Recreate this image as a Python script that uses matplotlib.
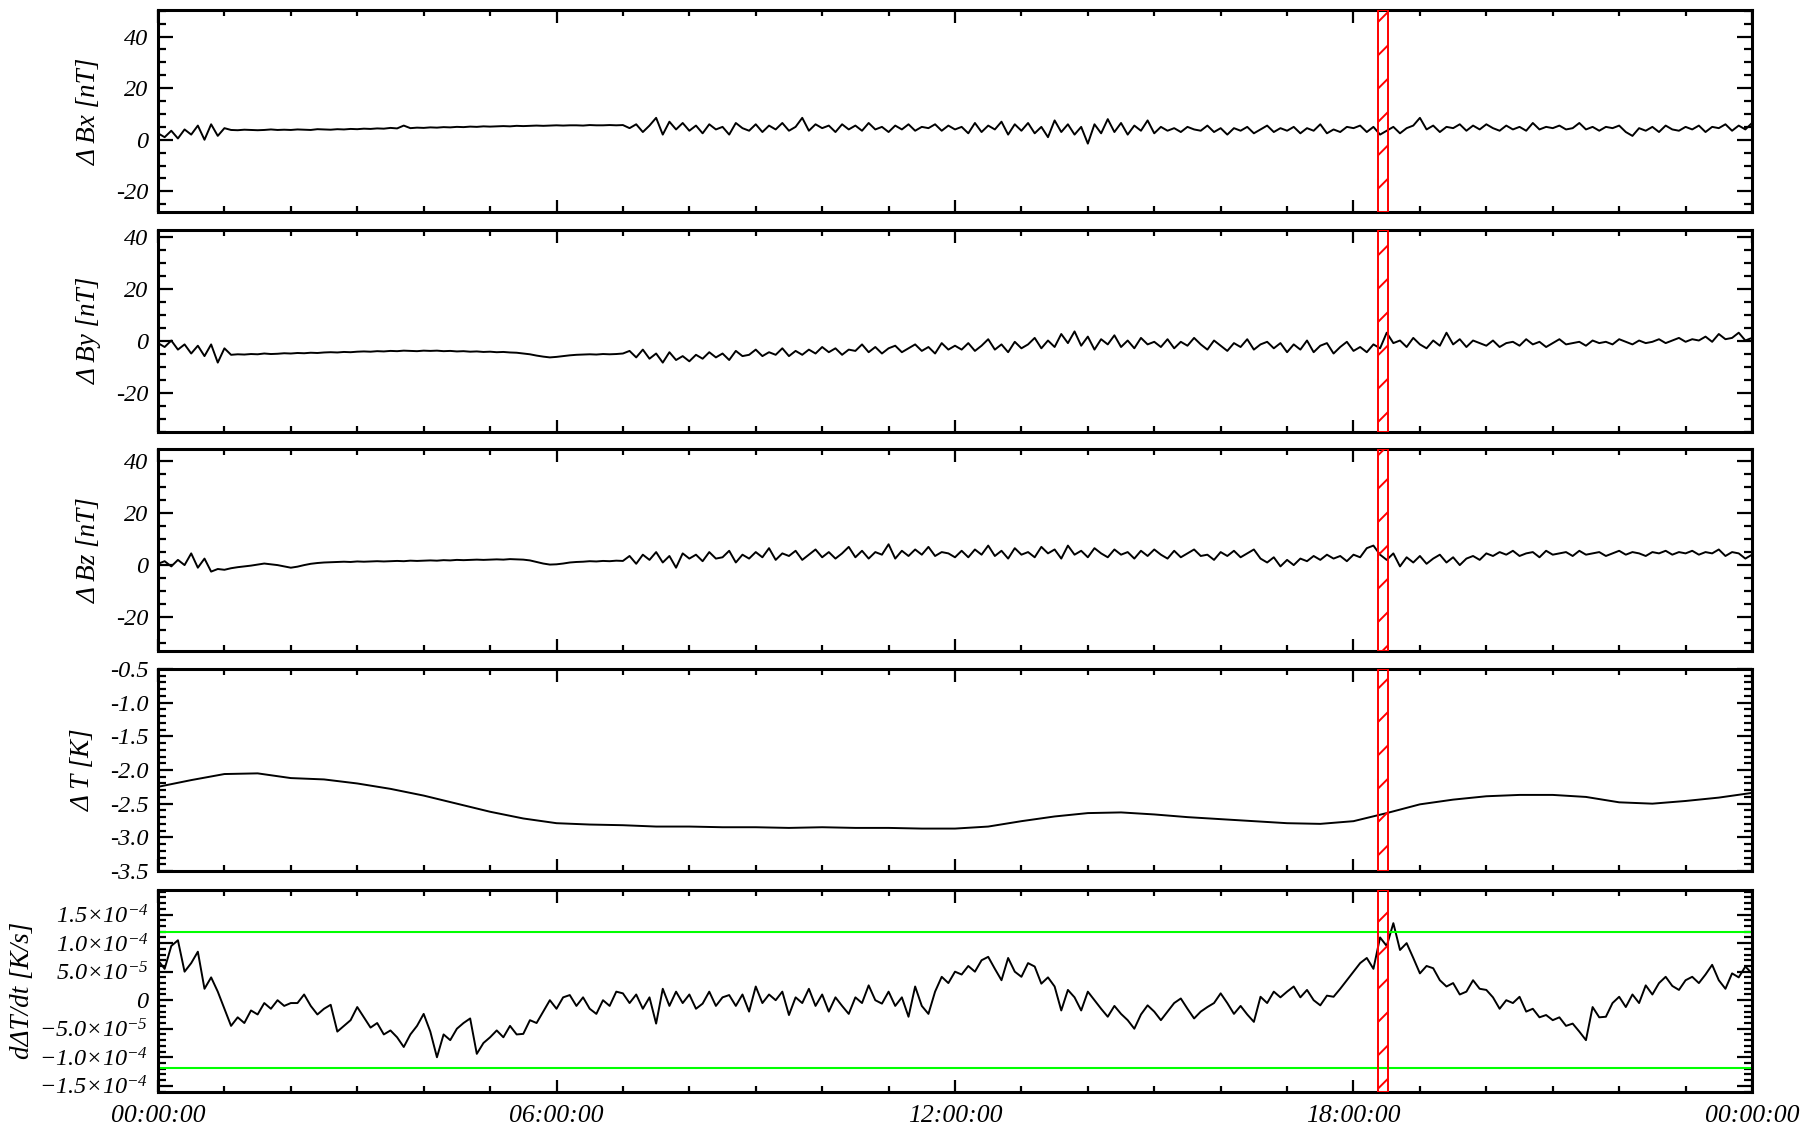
import matplotlib
matplotlib.use('Agg')
import matplotlib.pyplot as plt
from matplotlib.ticker import MultipleLocator, FixedLocator, FuncFormatter
import numpy as np

plt.rcParams['font.family'] = ['Liberation Serif', 'DejaVu Serif']
plt.rcParams['font.style'] = 'italic'
plt.rcParams['mathtext.fontset'] = 'custom'
plt.rcParams['mathtext.rm'] = 'Liberation Serif:italic'
plt.rcParams['mathtext.it'] = 'Liberation Serif:italic'
plt.rcParams['axes.unicode_minus'] = False
plt.rcParams['hatch.linewidth'] = 1.4

# ---- data (time in hours, 0.1 h step) ----
bx = [2.5, 1.0, 3.5, 0.5, 4.0, 2.0, 5.5, 0.0, 6.0, 1.5, 4.5,
      3.8, 3.7, 3.9, 3.8, 3.7, 3.8, 4.0, 3.8, 3.9, 3.8, 4.0, 3.9, 3.8, 4.1, 4.0, 3.9, 4.1, 4.0, 4.2, 4.1,
      4.3, 4.2, 4.4, 4.3, 4.6, 4.4, 5.5, 4.5, 4.7, 4.6, 4.8, 4.7, 4.9, 4.8, 5.0, 4.9, 5.1, 5.0, 5.2, 5.1,
      5.2, 5.3, 5.2, 5.4, 5.3, 5.4, 5.5, 5.4, 5.5, 5.6, 5.5, 5.6, 5.6, 5.5, 5.7, 5.6, 5.6, 5.7, 5.6, 5.7,
      4.5, 6.0, 3.0, 5.5, 8.5, 2.0, 7.0, 4.0, 6.5, 3.5,
      5.5, 2.5, 6.0, 4.0, 5.0, 2.0, 6.5, 4.5, 3.5, 6.0,
      3.0, 5.5, 4.0, 6.5, 3.5, 5.0, 8.5, 3.5, 6.0, 4.5,
      5.5, 3.0, 6.0, 4.0, 5.5, 3.5, 6.5, 4.0, 5.0, 3.0,
      5.5, 4.0, 6.0, 3.5, 5.0, 4.5, 6.0, 3.5, 5.5, 4.0,
      5.0, 2.5, 6.5, 3.0, 5.5, 4.0, 7.0, 2.0, 6.0, 3.5,
      6.5, 2.5, 5.0, 1.0, 7.5, 3.0, 6.0, 2.0, 5.0, -1.5,
      6.0, 2.5, 8.0, 3.0, 6.5, 2.0, 5.5, 3.5, 7.5, 2.5,
      5.0, 3.5, 4.5, 3.0, 5.0, 4.0, 3.5, 5.5, 3.0, 4.5,
      2.0, 4.5, 3.5, 5.0, 2.5, 4.0, 5.5, 3.0, 4.5, 3.5,
      5.0, 2.5, 4.5, 3.5, 6.0, 2.5, 4.0, 3.0, 5.0, 4.5,
      5.5, 3.0, 5.0, 2.0, 3.5, 5.0, 2.5, 4.5, 5.5, 8.5,
      4.0, 5.5, 3.0, 5.0, 4.5, 6.0, 3.5, 5.5, 4.0, 6.0,
      4.5, 3.5, 5.5, 4.0, 5.0, 3.5, 6.5, 4.0, 5.0, 4.5,
      5.5, 4.0, 4.5, 6.5, 4.0, 5.0, 3.5, 5.0, 4.5, 5.5,
      3.0, 1.5, 4.5, 3.5, 5.0, 3.0, 5.5, 4.0, 3.5, 5.0,
      4.0, 5.5, 3.0, 5.0, 4.5, 6.0, 3.5, 5.5, 4.0, 6.5]

by = [-1.0, -2.5, 0.0, -3.5, -1.5, -5.0, -2.0, -6.0, -1.5, -8.5, -3.0,
      -5.5, -5.3, -5.4, -5.2, -5.3, -5.0, -5.2, -5.1, -4.9, -5.0, -4.8, -4.9, -4.7, -4.8, -4.6, -4.5, -4.6, -4.4, -4.5, -4.3,
      -4.2, -4.3, -4.1, -4.2, -4.0, -4.1, -3.9, -4.0, -4.1, -3.9, -4.0, -3.9, -4.1, -4.0, -4.2, -4.1, -4.3, -4.2, -4.4, -4.3,
      -4.5, -4.4, -4.6, -4.7, -5.0, -5.3, -5.8, -6.2, -6.5, -6.3, -6.0, -5.7, -5.5, -5.4, -5.3, -5.4, -5.2, -5.3, -5.2, -5.0,
      -4.0, -6.5, -3.5, -7.0, -5.0, -8.5, -4.5, -7.5, -6.0, -8.0,
      -5.5, -7.0, -4.5, -6.5, -5.0, -7.5, -4.0, -6.0, -5.5, -3.5,
      -6.0, -4.5, -5.5, -3.0, -6.0, -4.0, -5.5, -3.5, -5.0, -2.5,
      -4.5, -3.0, -5.5, -3.5, -4.0, -1.5, -4.5, -2.5, -5.0, -3.0,
      -2.0, -4.5, -3.0, -1.5, -4.0, -2.5, -5.0, -1.0, -3.5, -2.0,
      -3.5, -1.0, -4.0, -2.0, 0.5, -3.5, -1.5, -4.5, -0.5, -3.0,
      -1.5, 1.0, -3.0, 0.0, -2.5, 2.5, -1.0, 3.5, -2.0, 1.5,
      -3.5, 0.5, -1.5, 2.0, -2.5, 0.0, -3.0, 1.0, -1.5, -0.5,
      -2.5, 0.5, -3.0, -0.5, -2.0, 1.0, -1.5, -3.5, 0.0, -2.0,
      -4.0, -1.0, -2.5, 0.5, -3.5, -1.5, -0.5, -3.0, -1.0, -4.5,
      -1.5, -3.5, 0.0, -4.5, -2.0, -1.0, -5.0, -2.5, -0.5, -4.0,
      -2.5, -4.5, -1.5, -3.0, 3.0, -1.0, 0.0, -2.5, 1.0, -1.5,
      -3.0, 0.0, -2.0, 3.0, -1.5, 0.5, -2.5, 0.0, -1.0, -2.0,
      0.0, -2.5, -1.0, -0.5, -2.0, 0.5, -1.5, -0.5, -2.5, -1.0,
      0.5, -1.5, -1.0, -0.5, -2.0, 0.0, -1.0, -0.5, -1.5, 0.5,
      -0.5, -1.5, 0.0, -1.0, -0.5, 0.5, -1.0, 0.0, 1.0, -0.5,
      0.5, 0.0, 1.5, -0.5, 2.5, 0.5, 1.0, 3.0, 0.0, 1.0]

bz = [0.5, 1.5, -0.5, 2.0, 0.0, 4.5, -1.0, 2.5, -2.5, -1.5, -1.8,
      -1.2, -0.8, -0.5, -0.2, 0.2, 0.6, 0.3, 0.0, -0.5, -1.0, -0.6, 0.0, 0.5, 0.8, 1.0, 1.1, 1.2, 1.3, 1.2, 1.4,
      1.3, 1.4, 1.5, 1.4, 1.5, 1.6, 1.5, 1.7, 1.6, 1.7, 1.8, 1.7, 1.9, 1.8, 2.0, 1.9, 2.0, 2.1, 2.0, 2.1,
      2.2, 2.1, 2.3, 2.2, 2.1, 1.8, 1.2, 0.6, 0.2, 0.3, 0.6, 1.0, 1.2, 1.3, 1.5, 1.4, 1.6, 1.5, 1.7, 1.6,
      3.5, 0.5, 4.0, 2.0, 5.0, 1.0, 3.5, -1.0, 4.5, 2.5,
      4.0, 1.5, 5.0, 2.5, 3.0, 5.5, 1.0, 4.0, 2.5, 5.0,
      3.0, 6.5, 2.0, 4.5, 3.5, 5.5, 2.0, 4.0, 6.0, 3.0,
      5.0, 2.5, 4.5, 7.0, 3.0, 5.5, 2.5, 5.0, 4.0, 8.0,
      2.5, 5.5, 3.5, 6.0, 4.0, 7.0, 3.5, 5.0, 4.5, 3.0,
      5.5, 3.0, 6.0, 4.0, 7.5, 3.5, 5.5, 2.5, 6.5, 4.0,
      5.0, 3.0, 7.0, 4.5, 6.0, 2.5, 7.5, 4.0, 5.5, 3.0,
      6.5, 4.5, 3.0, 6.0, 4.0, 5.0, 2.5, 5.5, 3.5, 6.0,
      4.0, 2.5, 5.5, 3.0, 4.5, 6.0, 3.5, 4.0, 2.0, 5.0,
      3.5, 5.5, 3.0, 4.5, 6.0, 2.5, 1.0, 3.0, -0.5, 2.0,
      0.0, 2.5, 1.5, 3.5, 2.0, 4.0, 2.5, 3.5, 1.5, 4.0,
      3.0, 6.5, 7.5, 4.0, 2.0, 4.5, -0.5, 3.0, 1.0, 3.5,
      0.5, 2.5, 4.0, 1.0, 3.0, 0.0, 2.5, 3.5, 2.0, 4.5,
      3.5, 5.0, 4.0, 5.5, 3.5, 4.5, 5.0, 3.0, 5.5, 4.0,
      4.5, 5.0, 3.5, 5.5, 4.0, 4.5, 5.0, 3.5, 4.5, 5.5,
      4.0, 5.0, 4.5, 3.5, 5.0, 4.5, 5.5, 4.0, 5.0, 4.5,
      5.5, 4.0, 5.0, 4.5, 6.0, 3.5, 5.0, 4.5, 2.5, 4.0]

# delta T, 0.5 h step
dtemp = [-2.25, -2.15, -2.06, -2.05, -2.12, -2.14, -2.20, -2.28, -2.38, -2.50,
         -2.62, -2.72, -2.79, -2.81, -2.82, -2.84, -2.84, -2.85, -2.85, -2.86,
         -2.85, -2.86, -2.86, -2.87, -2.87, -2.84, -2.76, -2.69, -2.64, -2.63,
         -2.66, -2.70, -2.73, -2.76, -2.79, -2.80, -2.76, -2.64, -2.51, -2.44,
         -2.39, -2.37, -2.37, -2.40, -2.48, -2.50, -2.46, -2.41, -2.34]

# d(delta T)/dt in units of 1e-5 K/s, 0.1 h step
dtdt = [7.0, 5.5, 9.5, 10.5, 5.0, 6.5, 8.5, 2.0, 4.0, 1.5, -1.5,
        -4.5, -3.0, -4.0, -1.8, -2.5, -0.5, -1.5, 0.0, -1.0, -0.5,
        -0.5, 1.0, -1.0, -2.5, -1.5, -0.8, -5.5, -4.5, -3.5, -1.2,
        -3.0, -4.8, -4.0, -6.0, -5.3, -6.5, -8.2, -6.0, -4.5, -2.4,
        -5.5, -10.0, -6.0, -7.0, -5.0, -4.0, -3.2, -9.4, -7.5, -6.5,
        -5.3, -6.5, -4.5, -6.0, -5.9, -3.5, -4.0, -2.0, 0.0, -1.5,
        0.5, 0.9, -1.0, 0.5, -1.5, -2.4, 0.0, -1.0, 1.5, 1.2,
        -0.5, 1.0, -1.5, 0.5, -4.1, 2.0, -1.0, 1.5, -0.5, 1.0,
        -1.5, -0.6, 1.5, -1.0, 0.5, 0.9, -1.0, 1.0, -2.0, 2.4,
        -0.5, 1.0, 0.0, 1.5, -2.6, 0.5, -0.5, 2.0, -1.0, 1.0,
        -2.0, 0.5, -1.0, -2.4, 0.5, -0.5, 2.6, 0.0, -0.6, 1.5,
        -1.0, 0.5, -2.9, 2.4, -1.0, -2.4, 1.5, 4.1, 3.0, 5.0,
        4.5, 6.0, 5.0, 7.0, 7.6, 5.5, 3.5, 7.4, 5.0, 4.1,
        6.5, 5.9, 2.9, 4.0, 2.4, -1.8, 1.8, 0.5, -1.8, 1.5,
        0.0, -1.5, -2.9, -1.0, -2.4, -3.5, -5.0, -2.5, -0.9, -2.0,
        -3.5, -2.0, -0.5, 0.3, -1.5, -3.2, -2.0, -1.2, -0.5, 1.2,
        -0.5, -2.4, -1.0, -2.5, -3.8, 0.6, -0.5, 1.5, 0.5, 1.5,
        2.4, 0.5, 1.8, 0.0, -0.9, 0.8, 0.6, 2.0, 3.5, 5.0,
        6.5, 7.4, 5.5, 11.0, 9.5, 13.5, 8.8, 10.0, 7.4, 4.7,
        6.0, 5.6, 3.5, 2.4, 3.0, 1.0, 1.5, 3.5, 2.0, 1.8,
        0.5, -1.5, 0.0, -0.5, 0.6, -2.0, -1.5, -3.0, -2.6, -3.5,
        -3.0, -4.5, -4.1, -5.5, -7.0, -1.2, -3.0, -2.9, -0.5, 0.6,
        -1.2, 1.0, -0.5, 2.6, 1.0, 3.0, 4.1, 2.5, 1.8, 3.5,
        4.1, 3.0, 4.5, 6.2, 3.5, 2.0, 4.7, 4.0, 5.9, 4.7]

threshold = 1.19e-4
event_start, event_end = 18.37, 18.52
xtick_labels = ['00:00:00', '06:00:00', '12:00:00', '18:00:00', '00:00:00']
ylabels = ['\u0394 Bx [nT]', '\u0394 By [nT]', '\u0394 Bz [nT]', '\u0394 T [K]', 'd\u0394T/dt [K/s]']
ylims = [(-28, 50.3), (-35, 42.7), (-33, 44.6), (-3.5, -0.5), (-1.6e-4, 1.94e-4)]

t_b = np.arange(len(bx)) * 0.1
t_by = np.arange(len(by)) * 0.1
t_bz = np.arange(len(bz)) * 0.1
t_dtemp = np.arange(len(dtemp)) * 0.5
t_dtdt = np.arange(len(dtdt)) * 0.1

W, H = 1802, 1132
fig = plt.figure(figsize=(W / 100, H / 100), dpi=100)
left, right = 158, 1752
tops = [10, 229.5, 449, 669, 889.5]
height = 202

series = [(t_b, bx), (t_by, by), (t_bz, bz), (t_dtemp, dtemp), (t_dtdt, np.array(dtdt) * 1e-5)]


def sci_fmt(v, pos):
    if abs(v) < 1e-12:
        return '0'
    exp = int(np.floor(np.log10(abs(v))))
    mant = v / 10 ** exp
    return r'$%.1f{\times}10^{%d}$' % (mant, exp)


axes = []
for i in range(5):
    ax = fig.add_axes([left / W, 1 - (tops[i] + height) / H, (right - left) / W, height / H])
    axes.append(ax)
    x, y = series[i]
    ax.plot(x, y, color='black', lw=1.4)
    ax.axvspan(event_start, event_end, fill=False, edgecolor='red', hatch='/', lw=1.4, zorder=3)
    ax.set_xlim(0, 24)
    ax.set_ylim(*ylims[i])
    ax.xaxis.set_major_locator(MultipleLocator(6))
    ax.xaxis.set_minor_locator(MultipleLocator(1))
    if i < 3:
        ax.yaxis.set_major_locator(MultipleLocator(20))
        ax.yaxis.set_minor_locator(MultipleLocator(5))
    elif i == 3:
        ax.yaxis.set_major_locator(FixedLocator([-3.5, -3.0, -2.5, -2.0, -1.5, -1.0, -0.5]))
        ax.yaxis.set_minor_locator(MultipleLocator(0.1))
        ax.yaxis.set_major_formatter(FuncFormatter(lambda v, p: '%.1f' % v))
    else:
        ax.yaxis.set_major_locator(FixedLocator([-1.5e-4, -1e-4, -5e-5, 0, 5e-5, 1e-4, 1.5e-4]))
        ax.yaxis.set_minor_locator(MultipleLocator(1e-5))
        ax.yaxis.set_major_formatter(FuncFormatter(sci_fmt))
        ax.axhline(threshold, color='#00ff00', lw=1.5)
        ax.axhline(-threshold, color='#00ff00', lw=1.5)
    ax.tick_params(axis='both', which='both', direction='in', top=True, right=True, width=1.6)
    ax.tick_params(axis='x', which='major', length=9)
    ax.tick_params(axis='x', which='minor', length=4)
    ax.tick_params(axis='y', which='major', length=11, labelsize=17.5, pad=7)
    ax.tick_params(axis='y', which='minor', length=5.5)
    for s in ax.spines.values():
        s.set_linewidth(2.2)
    ax.set_ylabel(ylabels[i], fontsize=19.5, labelpad=10 if i < 4 else 3)
    if i < 4:
        ax.set_xticklabels([])
    else:
        ax.set_xticks([0, 6, 12, 18, 24])
        ax.set_xticklabels(xtick_labels)
        ax.tick_params(axis='x', which='major', labelsize=18.5, pad=10)

fig.savefig('out.png', dpi=100)
